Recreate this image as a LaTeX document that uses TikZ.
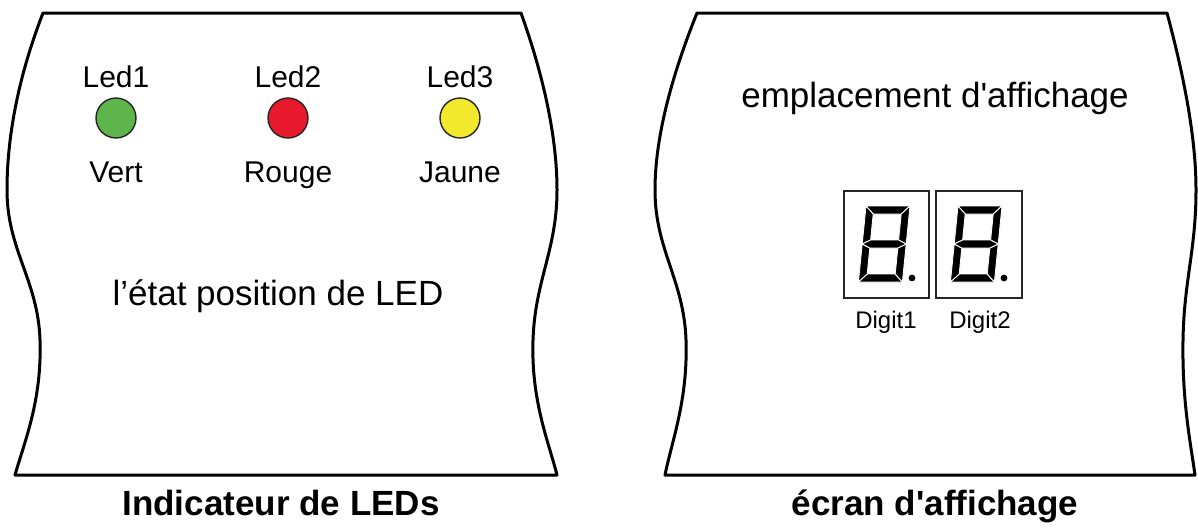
\documentclass[tikz,border=0pt]{standalone}
\usepackage{fontspec}
\setmainfont{Liberation Sans}
\definecolor{ledgreen}{RGB}{93,181,75}
\definecolor{ledred}{RGB}{232,25,44}
\definecolor{ledyellow}{RGB}{242,233,44}
\newcommand\mysevenseg[3]{%
  \begin{scope}[shift={(#1,#2)}, xslant=0.1]
    \path[seg] (0,0) -- (44,0) -- (36,8) -- (8,8) -- cycle;
    \path[seg] (0,76) -- (44,76) -- (36,68) -- (8,68) -- cycle;
    \path[seg] (0,0) -- (8,8) -- (8,34) -- (0,38) -- cycle;
    \path[seg] (0,38) -- (8,42) -- (8,68) -- (0,76) -- cycle;
    \path[seg] (44,0) -- (36,8) -- (36,34) -- (44,38) -- cycle;
    \path[seg] (44,38) -- (36,42) -- (36,68) -- (44,76) -- cycle;
    \path[seg] (0,38) -- (8,34) -- (36,34) -- (44,38) -- (36,42) -- (8,42) -- cycle;
  \end{scope}
  \fill (#1+46,#2+72) circle[radius=3.4] coordinate (#3);
}
\begin{document}
\begin{tikzpicture}[x=0.5pt,y=-0.5pt,
  panel/.style={line width=1.5pt, line join=round},
  led/.style={circle, draw=black!85, line width=0.7pt, minimum size=20pt, inner sep=0pt},
  lbl/.style={font=\fontsize{15}{18}\selectfont, inner sep=0pt, anchor=base},
  big/.style={font=\fontsize{17.5}{20}\selectfont, inner sep=0pt, anchor=base},
  ttl/.style={font=\fontsize{17.5}{20}\selectfont\bfseries, inner sep=0pt, anchor=base},
  seg/.style={fill=black, draw=white, line width=0.45pt, line join=miter},
  dbox/.style={draw=black!85, line width=0.8pt},
  dlbl/.style={font=\fontsize{12}{14}\selectfont, inner sep=0pt, anchor=base}]
\useasboundingbox (0,0) rectangle (1198,527);

% left panel
\draw[panel] (43,13) -- (521,13)
  .. controls (545,80) and (557,140) .. (557,190)
  .. controls (557,250) and (535,280) .. (533,340)
  .. controls (531,400) and (548,440) .. (557,475)
  -- (15,475)
  .. controls (25,440) and (42,400) .. (40,340)
  .. controls (38,280) and (7,250) .. (7,190)
  .. controls (7,140) and (17,80) .. (43,13) -- cycle;

% right panel
\draw[panel] (697,13) -- (1167,13)
  .. controls (1185,80) and (1196,140) .. (1196,190)
  .. controls (1196,250) and (1184,280) .. (1183,340)
  .. controls (1182,400) and (1190,440) .. (1195,475)
  -- (665,475)
  .. controls (672,440) and (688,400) .. (686,340)
  .. controls (684,280) and (655,250) .. (655,190)
  .. controls (655,140) and (670,80) .. (697,13) -- cycle;

% LEDs
\node[lbl] (l1) at (116,87) {Led1};
\node[lbl] (l2) at (288,87) {Led2};
\node[lbl] (l3) at (460,87) {Led3};
\node[led, fill=ledgreen] (c1) at (116,118) {};
\node[led, fill=ledred] (c2) at (288,118) {};
\node[led, fill=ledyellow] (c3) at (460,118) {};
\node[lbl] (v1) at (116,182) {Vert};
\node[lbl] (v2) at (288,182) {Rouge};
\node[lbl] (v3) at (460,182) {Jaune};
\node[big] (etat) at (278,305) {l’état position de LED};
\node[ttl] (t1) at (281,515) {Indicateur de LEDs};

% display
\node[big] (empl) at (935,107) {emplacement d\textquotesingle affichage};
\draw[dbox] (844,191) rectangle (929,298);
\draw[dbox] (936,191) rectangle (1022,298);
\mysevenseg{866}{206}{p1}
\mysevenseg{958}{206}{p2}
\node[dlbl] (d1) at (886,328) {Digit1};
\node[dlbl] (d2) at (980,328) {Digit2};
\node[ttl] (t2) at (935,515) {écran d\textquotesingle affichage};
\end{tikzpicture}
\end{document}
